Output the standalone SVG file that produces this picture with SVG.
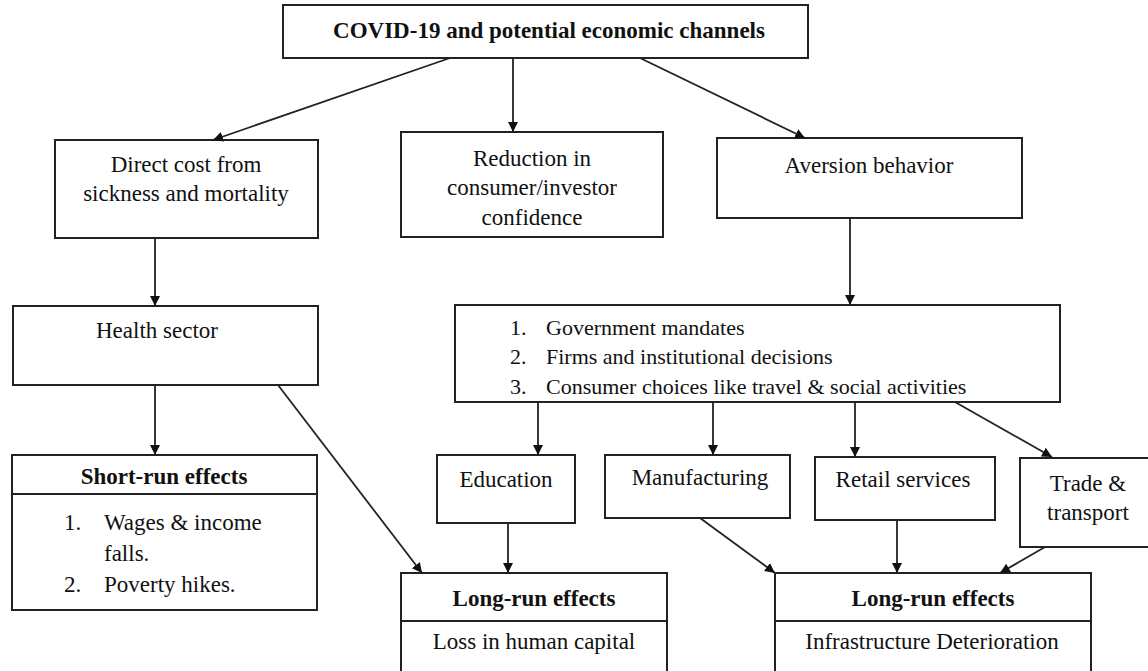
<svg xmlns="http://www.w3.org/2000/svg" width="1148" height="671" viewBox="0 0 1148 671">
<style>
.box{fill:#fff;stroke:#222;stroke-width:2}
.div{stroke:#222;stroke-width:2}
text{font-family:"Liberation Serif","Times New Roman",serif;font-size:23px;fill:#111}
.c{text-anchor:middle}
.b{font-weight:bold}
.m{font-size:22px}
.con line{stroke:#222;stroke-width:1.8}
</style>
<defs>
<marker id="ah" markerWidth="10" markerHeight="10" refX="10" refY="5" orient="auto" markerUnits="userSpaceOnUse" viewBox="0 0 10 10">
<path d="M0,0 L10,5 L0,10 Z" fill="#111"/>
</marker>
</defs>
<rect width="1148" height="671" fill="#fff"/>

<g id="top"><rect class="box" x="283" y="5" width="525" height="53"/><text class="c b" x="549" y="38">COVID-19 and potential economic channels</text></g>
<g id="direct"><rect class="box" x="55" y="140" width="263" height="98"/><text class="c" x="186" y="172">Direct cost from</text><text class="c" x="186" y="201">sickness and mortality</text></g>
<g id="reduction"><rect class="box" x="401" y="132" width="262" height="105"/><text class="c" x="532" y="166">Reduction in</text><text class="c" x="532" y="195">consumer/investor</text><text class="c" x="532" y="225">confidence</text></g>
<g id="aversion"><rect class="box" x="717" y="138" width="305" height="80"/><text class="c" x="869" y="173">Aversion behavior</text></g>
<g id="health"><rect class="box" x="13" y="306" width="305" height="79"/><text class="c" x="157" y="338">Health sector</text></g>
<g id="mandates"><rect class="box" x="455" y="305" width="605" height="97"/>
<text class="m" x="510" y="335">1.</text><text class="m" x="546" y="335">Government mandates</text>
<text class="m" x="510" y="364">2.</text><text class="m" x="546" y="364">Firms and institutional decisions</text>
<text class="m" x="510" y="394">3.</text><text class="m" x="546" y="394">Consumer choices like travel &amp; social activities</text></g>
<g id="shortrun"><rect class="box" x="12" y="455" width="305" height="155"/><line class="div" x1="12" y1="494" x2="317" y2="494"/>
<text class="c b" x="164" y="484">Short-run effects</text>
<text x="64" y="530">1.</text><text x="104" y="530">Wages &amp; income</text>
<text x="104" y="561">falls.</text>
<text x="64" y="592">2.</text><text x="104" y="592">Poverty hikes.</text></g>
<g id="education"><rect class="box" x="437" y="455" width="138" height="68"/><text class="c" x="506" y="487">Education</text></g>
<g id="manufacturing"><rect class="box" x="605" y="455" width="185" height="63"/><text class="c" x="700" y="485">Manufacturing</text></g>
<g id="retail"><rect class="box" x="815" y="457" width="180" height="63"/><text class="c" x="903" y="487">Retail services</text></g>
<g id="trade"><rect class="box" x="1020" y="458" width="140" height="89"/><text class="c" x="1088" y="491">Trade &amp;</text><text class="c" x="1088" y="520">transport</text></g>
<g id="longrun1"><rect class="box" x="401" y="573" width="266" height="110"/><line class="div" x1="401" y1="621" x2="667" y2="621"/>
<text class="c b" x="534" y="606">Long-run effects</text><text class="c" x="534" y="649">Loss in human capital</text></g>
<g id="longrun2"><rect class="box" x="775" y="573" width="316" height="110"/><line class="div" x1="775" y1="621" x2="1091" y2="621"/>
<text class="c b" x="933" y="606">Long-run effects</text><text class="c" x="932" y="649">Infrastructure Deterioration</text></g>

<g class="con" id="connectors">
<line x1="450" y1="58" x2="213" y2="140" marker-end="url(#ah)"/>
<line x1="513" y1="58" x2="513" y2="132" marker-end="url(#ah)"/>
<line x1="640" y1="58" x2="805" y2="138" marker-end="url(#ah)"/>
<line x1="155" y1="238" x2="155" y2="306" marker-end="url(#ah)"/>
<line x1="850" y1="218" x2="850" y2="305" marker-end="url(#ah)"/>
<line x1="155" y1="385" x2="155" y2="455" marker-end="url(#ah)"/>
<line x1="278" y1="385" x2="422" y2="573" marker-end="url(#ah)"/>
<line x1="538" y1="402" x2="538" y2="455" marker-end="url(#ah)"/>
<line x1="713" y1="402" x2="713" y2="455" marker-end="url(#ah)"/>
<line x1="855" y1="402" x2="855" y2="457" marker-end="url(#ah)"/>
<line x1="955" y1="402" x2="1052" y2="457" marker-end="url(#ah)"/>
<line x1="508" y1="523" x2="508" y2="573" marker-end="url(#ah)"/>
<line x1="700" y1="518" x2="775" y2="573" marker-end="url(#ah)"/>
<line x1="897" y1="520" x2="897" y2="573" marker-end="url(#ah)"/>
<line x1="1045" y1="547" x2="1000" y2="573" marker-end="url(#ah)"/>
</g>
</svg>
